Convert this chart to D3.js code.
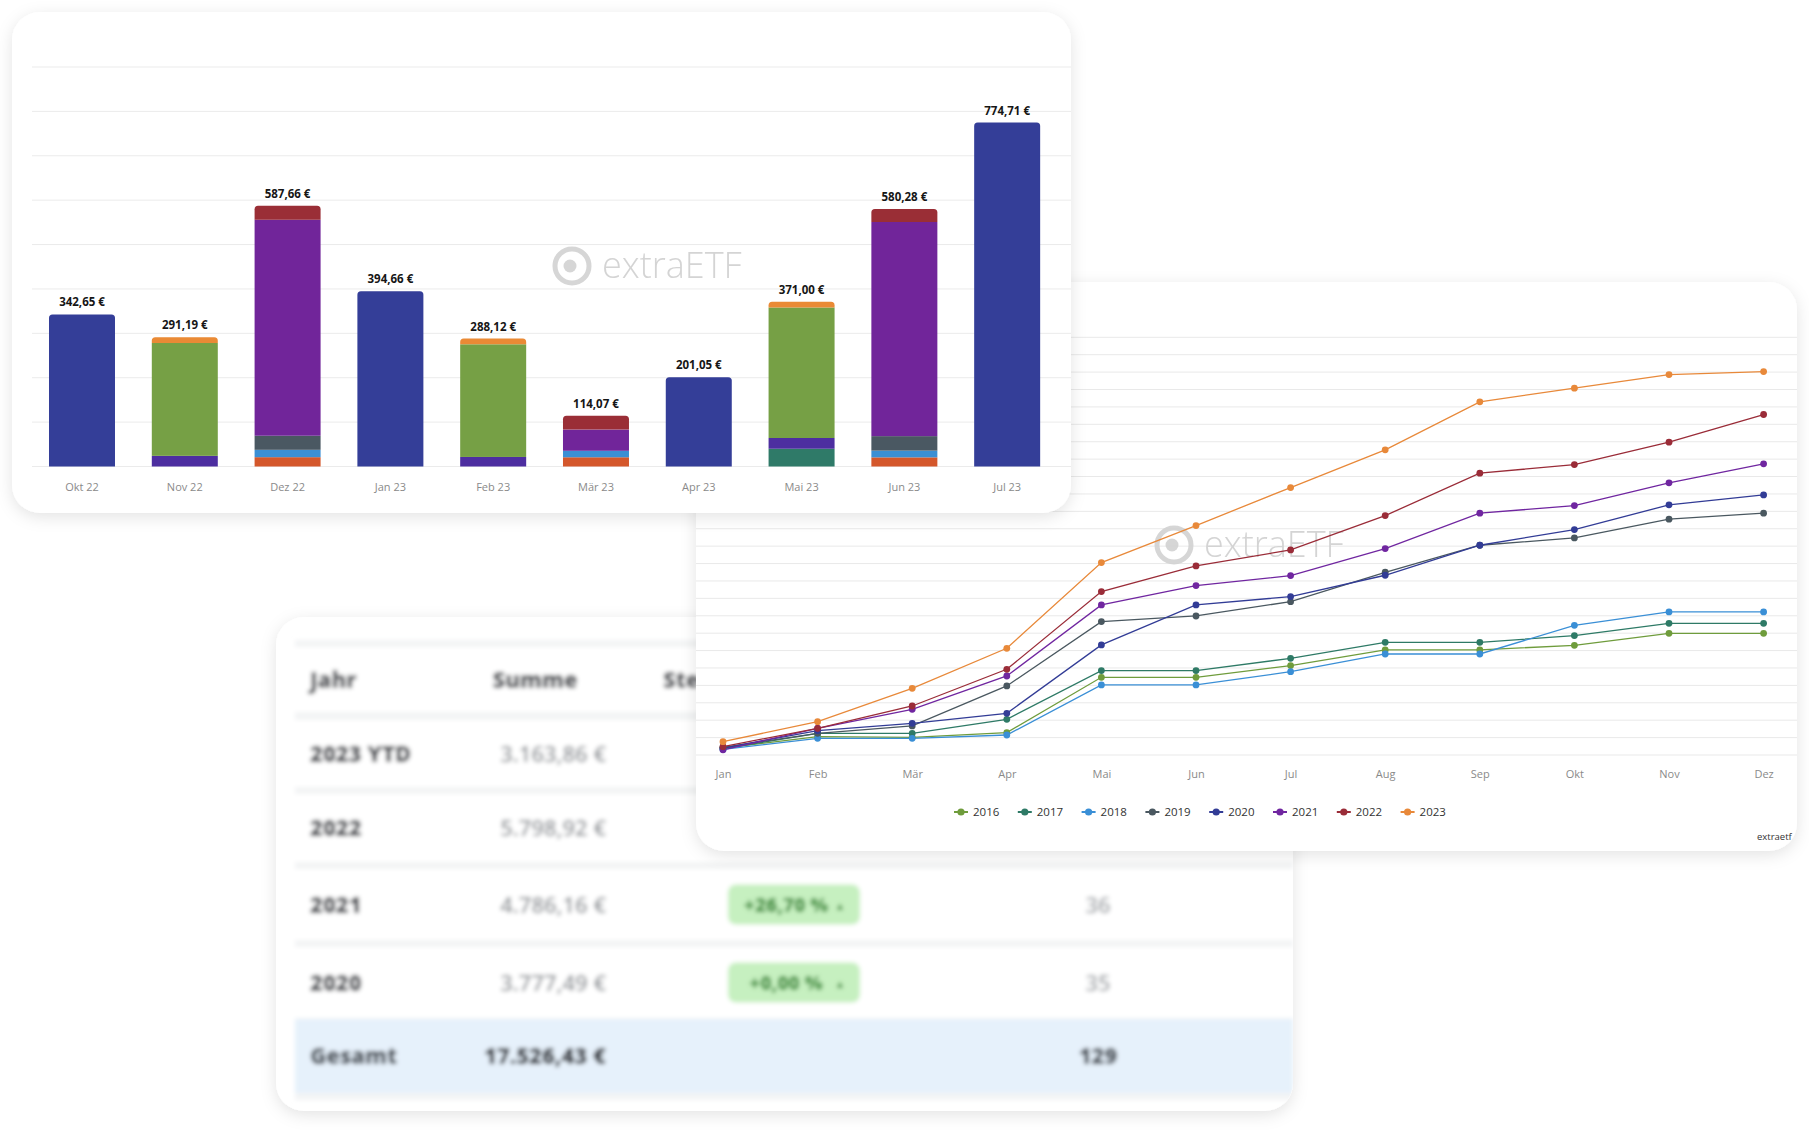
<!DOCTYPE html>
<html><head><meta charset="utf-8">
<script src="https://cdn.jsdelivr.net/npm/d3@7"></script>
<style>
html,body{margin:0;padding:0;background:#fff;}
svg{display:block;font-family:"Open Sans",sans-serif;}
</style></head><body>
<svg id="c" width="1809" height="1134"></svg>
<script>
// ---------------- DATA ----------------
// Bar chart: monthly dividends, stacked by position
const barMonths = ["Okt 22","Nov 22","Dez 22","Jan 23","Feb 23","Mär 23","Apr 23","Mai 23","Jun 23","Jul 23"];
const barTotals = [342.65, 291.19, 587.66, 394.66, 288.12, 114.07, 201.05, 371.00, 580.28, 774.71];
const barTotalLabels = ["342,65 €","291,19 €","587,66 €","394,66 €","288,12 €","114,07 €","201,05 €","371,00 €","580,28 €","774,71 €"];
const posKeys   = ["orangeRed","teal","blue","grey","violet","green","purple","darkRed","orange","navy"];
const posColors = ["#d4572b","#2f7a68","#3b8fd4","#4a5862","#4d2ea0","#76a045","#71259a","#9a2e36","#ea8a35","#343e98"];
const segOrangeRed = [0, 0, 21.0, 0, 0, 20.8, 0, 0, 20.6, 0];
const segTeal      = [0, 0, 0, 0, 0, 0, 0, 40.0, 0, 0];
const segBlue      = [0, 0, 16.6, 0, 0, 14.6, 0, 0, 15.2, 0];
const segGrey      = [0, 0, 31.7, 0, 0, 0, 0, 0, 32.6, 0];
const segViolet    = [0, 24.0, 0, 0, 21.5, 0, 0, 24.2, 0, 0];
const segGreen     = [0, 254.2, 0, 0, 253.8, 0, 0, 294.0, 0, 0];
const segPurple    = [0, 0, 486.66, 0, 0, 47.8, 0, 0, 482.4, 0];
const segDarkRed   = [0, 0, 31.7, 0, 0, 30.87, 0, 0, 29.48, 0];
const segOrange    = [0, 12.99, 0, 0, 12.82, 0, 0, 12.8, 0, 0];
const segNavy      = [342.65, 0, 0, 394.66, 0, 0, 201.05, 0, 0, 774.71];
const barTicks = [0,100,200,300,400,500,600,700,800,900];

// Line chart: cumulative dividends per year
const lineMonths = ["Jan","Feb","Mär","Apr","Mai","Jun","Jul","Aug","Sep","Okt","Nov","Dez"];
const lineYears  = ["2016","2017","2018","2019","2020","2021","2022","2023"];
const lineColors = ["#6f9c3c","#2e7a66","#3a8fd6","#4a5860","#323c96","#7026a0","#9a2c38","#e8893a"];
const y2016 = [100, 263, 254, 321, 1116, 1116, 1284, 1509, 1509, 1576, 1748, 1748];
const y2017 = [ 90, 311, 311, 513, 1212, 1212, 1389, 1619, 1619, 1715, 1892, 1892];
const y2018 = [ 80, 239, 239, 287, 1006, 1006, 1197, 1451, 1451, 1863, 2055, 2055];
const y2019 = [110, 311, 417, 992, 1916, 1997, 2203, 2625, 3013, 3118, 3387, 3473];
const y2020 = [100, 350, 455, 599, 1581, 2156, 2275, 2582, 3013, 3238, 3593, 3736];
const y2021 = [ 75, 383, 656, 1135, 2156, 2433, 2577, 2965, 3473, 3583, 3909, 4182];
const y2022 = [120, 383, 704, 1231, 2347, 2716, 2946, 3439, 4048, 4172, 4493, 4891];
const y2023 = [192, 479, 958, 1533, 2764, 3296, 3842, 4383, 5073, 5269, 5465, 5508];
const lineTicks = [0,250,500,750,1000,1250,1500,1750,2000,2250,2500,2750,3000,3250,3500,3750,4000,4250,4500,4750,5000,5250,5500,5750,6000];

// Table
const tableHeaders = ["Jahr","Summe","Steigerung","Anzahl"];
const tableYears   = ["2023 YTD","2022","2021","2020"];
const tableSums    = ["3.163,86 €","5.798,92 €","4.786,16 €","3.777,49 €"];
const tableGrowth  = ["","","+26,70 %","+0,00 %"];
const tableCounts  = ["","","36","35"];
const tableTotal   = ["Gesamt","17.526,43 €","","129"];

// ---------------- DRAW ----------------
const svg = d3.select("#c");
const defs = svg.append("defs");
const sh = defs.append("filter").attr("id","shadow").attr("x","-10%").attr("y","-10%").attr("width","120%").attr("height","125%");
sh.append("feDropShadow").attr("dx",0).attr("dy",4).attr("stdDeviation",8).attr("flood-color","#000").attr("flood-opacity",0.11);
const bl = defs.append("filter").attr("id","blur").attr("x","-5%").attr("y","-5%").attr("width","110%").attr("height","110%");
bl.append("feGaussianBlur").attr("stdDeviation",2.1);

function card(g, x, y, w, h, r, id){
  g.append("rect").attr("x",x).attr("y",y).attr("width",w).attr("height",h).attr("rx",r)
    .attr("fill","#fff").attr("filter","url(#shadow)");
  defs.append("clipPath").attr("id",id).append("rect").attr("x",x).attr("y",y).attr("width",w).attr("height",h).attr("rx",r);
  return g.append("g").attr("clip-path",`url(#${id})`);
}
function watermark(g, cx, cy){
  const w = g.append("g").attr("opacity",0.9);
  w.append("circle").attr("cx",cx).attr("cy",cy).attr("r",17).attr("fill","none").attr("stroke","#d2d2d2").attr("stroke-width",5);
  w.append("circle").attr("cx",cx-2).attr("cy",cy).attr("r",6.5).attr("fill","#d2d2d2");
  w.append("text").attr("x",cx+30).attr("y",cy+12).attr("font-size",36).attr("font-weight",300)
    .attr("fill","#d0d0d0").text("extraETF");
}

// ===== TABLE CARD (back) =====
const gT = svg.append("g");
const tIn = card(gT, 276, 617, 1017, 494, 28, "clipT");
const tb = tIn.append("g").attr("filter","url(#blur)");
tb.append("rect").attr("x",295).attr("y",640).attr("width",998).attr("height",460).attr("fill","#f3f4f5");
const rowTop = [647, 720, 794, 869, 947, 1019];
const rowH   = [65, 67, 68, 71, 71, 74];
rowTop.forEach((t,i)=>{
  tb.append("rect").attr("x",295).attr("y",t).attr("width",998).attr("height",rowH[i])
    .attr("fill", i===5 ? "#e6f1fb" : "#fff");
});
const rowC = rowTop.map((t,i)=>t+rowH[i]/2);
const colX = {jahr:310, summeC:535, summeR:606, growthC:794, countC:1098};
const FS = 22;
const dark = "#3a3e44";
tb.append("text").attr("x",colX.jahr).attr("y",rowC[0]+8).attr("font-size",FS).attr("font-weight",800).attr("fill",dark).text(tableHeaders[0]);
tb.append("text").attr("x",colX.summeC).attr("y",rowC[0]+8).attr("text-anchor","middle").attr("font-size",FS).attr("font-weight",800).attr("fill",dark).text(tableHeaders[1]);
tb.append("text").attr("x",663).attr("y",rowC[0]+8).attr("font-size",FS).attr("font-weight",800).attr("fill",dark).text(tableHeaders[2]);
tb.append("text").attr("x",colX.countC).attr("y",rowC[0]+8).attr("text-anchor","middle").attr("font-size",FS).attr("font-weight",800).attr("fill",dark).text(tableHeaders[3]);
tableYears.forEach((yr,i)=>{
  const cy = rowC[i+1];
  tb.append("text").attr("x",colX.jahr).attr("y",cy+8).attr("font-size",FS).attr("font-weight",800).attr("fill",dark).text(yr);
  tb.append("text").attr("x",colX.summeR).attr("y",cy+8).attr("text-anchor","end").attr("font-size",FS).attr("font-weight",600).attr("fill","#8a8e93").text(tableSums[i]);
  if(tableGrowth[i]){
    tb.append("rect").attr("x",colX.growthC-66).attr("y",cy-20).attr("width",132).attr("height",40).attr("rx",8).attr("fill","#c6f0c0");
    tb.append("text").attr("x",colX.growthC-8).attr("y",cy+7).attr("text-anchor","middle").attr("font-size",19).attr("font-weight",800).attr("fill","#3f8f3c").text(tableGrowth[i]);
    tb.append("text").attr("x",colX.growthC+46).attr("y",cy+5).attr("text-anchor","middle").attr("font-size",11).attr("fill","#3f8f3c").text("▲");
  }
  if(tableCounts[i]){
    tb.append("text").attr("x",colX.countC).attr("y",cy+8).attr("text-anchor","middle").attr("font-size",FS).attr("font-weight",600).attr("fill","#9a9ea3").text(tableCounts[i]);
  }
});
tb.append("text").attr("x",colX.jahr).attr("y",rowC[5]+8).attr("font-size",FS).attr("font-weight",800).attr("fill","#41474f").text(tableTotal[0]);
tb.append("text").attr("x",colX.summeR).attr("y",rowC[5]+8).attr("text-anchor","end").attr("font-size",FS).attr("font-weight",800).attr("fill","#2e3238").text(tableTotal[1]);
tb.append("text").attr("x",colX.countC).attr("y",rowC[5]+8).attr("text-anchor","middle").attr("font-size",FS).attr("font-weight",800).attr("fill","#41474f").text(tableTotal[3]);

// ===== LINE CARD (middle) =====
const gL = svg.append("g");
const L = {x:696, y:282, w:1101, h:569};
const lIn = card(gL, L.x, L.y, L.w, L.h, 28, "clipL");
const xL = d3.scalePoint().domain(lineMonths).range([723, 1763.6]);
const yL = d3.scaleLinear().domain([0, 6000]).range([755, 337.3]);
lIn.append("g").selectAll("line").data(lineTicks).join("line")
  .attr("x1",L.x).attr("x2",L.x+L.w).attr("y1",d=>yL(d)).attr("y2",d=>yL(d))
  .attr("stroke","#e9e9e9").attr("stroke-width",1);
watermark(lIn, 1174, 545);
const xAxL = d3.axisBottom(xL).tickSize(0).tickPadding(0);
const axL = lIn.append("g").attr("transform","translate(0,778)").call(xAxL);
axL.select(".domain").remove();
axL.selectAll("text").attr("font-size",11).attr("fill","#8a8a8a").attr("font-family","Open Sans").attr("dy",0);
const lineSeries = [y2016,y2017,y2018,y2019,y2020,y2021,y2022,y2023];
const lineGen = d3.line().x((d,i)=>xL(lineMonths[i])).y(d=>yL(d));
lineSeries.forEach((s,k)=>{
  lIn.append("path").datum(s).attr("d",lineGen).attr("fill","none")
    .attr("stroke",lineColors[k]).attr("stroke-width",1.3);
});
lineSeries.forEach((s,k)=>{
  lIn.append("g").selectAll("circle").data(s).join("circle")
    .attr("cx",(d,i)=>xL(lineMonths[i])).attr("cy",d=>yL(d)).attr("r",3.4).attr("fill",lineColors[k]);
});
// legend
const leg = lIn.append("g");
lineYears.forEach((yr,k)=>{
  const mx = 961 + k*63.8;
  leg.append("line").attr("x1",mx-7).attr("x2",mx+7).attr("y1",812).attr("y2",812).attr("stroke",lineColors[k]).attr("stroke-width",2);
  leg.append("circle").attr("cx",mx).attr("cy",812).attr("r",3.6).attr("fill",lineColors[k]);
  leg.append("text").attr("x",mx+12).attr("y",816).attr("font-size",11.5).attr("fill","#333").text(yr);
});
lIn.append("text").attr("x",1757).attr("y",840).attr("font-size",9.5).attr("fill","#333").text("extraetf.com");

// ===== BAR CARD (front) =====
const gB = svg.append("g");
const B = {x:12, y:12, w:1059, h:501};
const bIn = card(gB, B.x, B.y, B.w, B.h, 28, "clipB");
const xB = d3.scaleBand().domain(barMonths).range([18.16, 1071]).paddingInner(0.358).paddingOuter(0.3);
const yB = d3.scaleLinear().domain([0, 900]).range([466.5, 67]);
bIn.append("g").selectAll("line").data(barTicks).join("line")
  .attr("x1",32).attr("x2",B.x+B.w).attr("y1",d=>yB(d)).attr("y2",d=>yB(d))
  .attr("stroke","#ebebeb").attr("stroke-width",1);
watermark(bIn, 572, 266);
const segArrays = [segOrangeRed,segTeal,segBlue,segGrey,segViolet,segGreen,segPurple,segDarkRed,segOrange,segNavy];
const barTable = barMonths.map((m,i)=>{
  const o = {month:m};
  posKeys.forEach((k,j)=>o[k]=segArrays[j][i]);
  return o;
});
const stacked = d3.stack().keys(posKeys)(barTable);
const topKey = barTable.map(row=>{ let t=null; posKeys.forEach(k=>{ if(row[k]>0) t=k; }); return t; });
const bw = xB.bandwidth(), rr = 3.5;
stacked.forEach((layer,j)=>{
  layer.forEach((d,i)=>{
    if(d[1]-d[0] <= 0) return;
    const x0 = xB(barMonths[i]), y0 = yB(d[0]), y1 = yB(d[1]);
    if(topKey[i] === layer.key){
      const p = `M${x0},${y0}V${y1+rr}Q${x0},${y1} ${x0+rr},${y1}H${x0+bw-rr}Q${x0+bw},${y1} ${x0+bw},${y1+rr}V${y0}Z`;
      bIn.append("path").attr("d",p).attr("fill",posColors[j]);
    } else {
      bIn.append("rect").attr("x",x0).attr("y",y1).attr("width",bw).attr("height",y0-y1).attr("fill",posColors[j]);
    }
  });
});
bIn.append("g").selectAll("text").data(barMonths).join("text")
  .attr("x",d=>xB(d)+bw/2).attr("y",d=>yB(barTotals[barMonths.indexOf(d)])-8)
  .attr("text-anchor","middle").attr("font-size",11.5).attr("font-weight",700).attr("fill","#161616")
  .text((d,i)=>barTotalLabels[i]);
const axB = bIn.append("g").attr("transform","translate(0,491)").call(d3.axisBottom(xB).tickSize(0).tickPadding(0));
axB.select(".domain").remove();
axB.selectAll("text").attr("font-size",11).attr("fill","#8a8a8a").attr("font-family","Open Sans").attr("dy",0);
</script>
</body></html>
